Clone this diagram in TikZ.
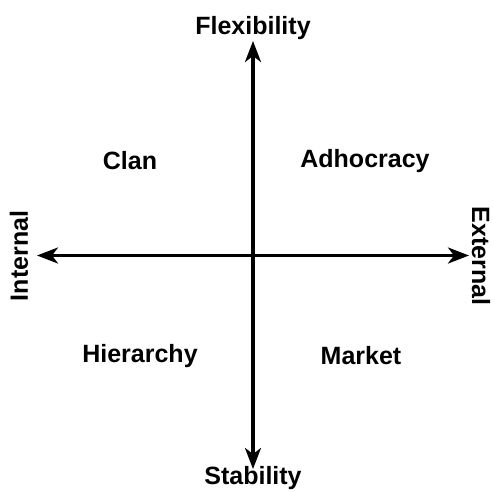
\documentclass[tikz,border=0pt]{standalone}
\usepackage{fontspec}
\setmainfont{Liberation Sans}
\usetikzlibrary{arrows.meta}

\begin{document}
\begin{tikzpicture}[x=1pt,y=-1pt,font=\fontsize{25}{29}\selectfont\bfseries,
  axis/.style={line width=3.2pt,{Stealth[length=21pt,width=16pt,inset=6pt]}-{Stealth[length=21pt,width=16pt,inset=6pt]}}]
\useasboundingbox (0,0) rectangle (493,491);
\coordinate (top) at (253,41);
\coordinate (bottom) at (253,469);
\coordinate (left) at (37,255.5);
\coordinate (right) at (469,255.5);
\draw[axis] (top) -- (bottom);
\draw[axis] (left) -- (right);
\node (flex) at (253,28) {Flexibility};
\node (stab) at (253,478) {Stability};
\node[rotate=90] (intl) at (19,256) {Internal};
\node[rotate=-90] (extl) at (481,256) {External};
\node (clan) at (130,161) {Clan};
\node (adhocracy) at (365,161) {Adhocracy};
\node (hierarchy) at (140,356) {Hierarchy};
\node (market) at (361,356) {Market};
\end{tikzpicture}
\end{document}
